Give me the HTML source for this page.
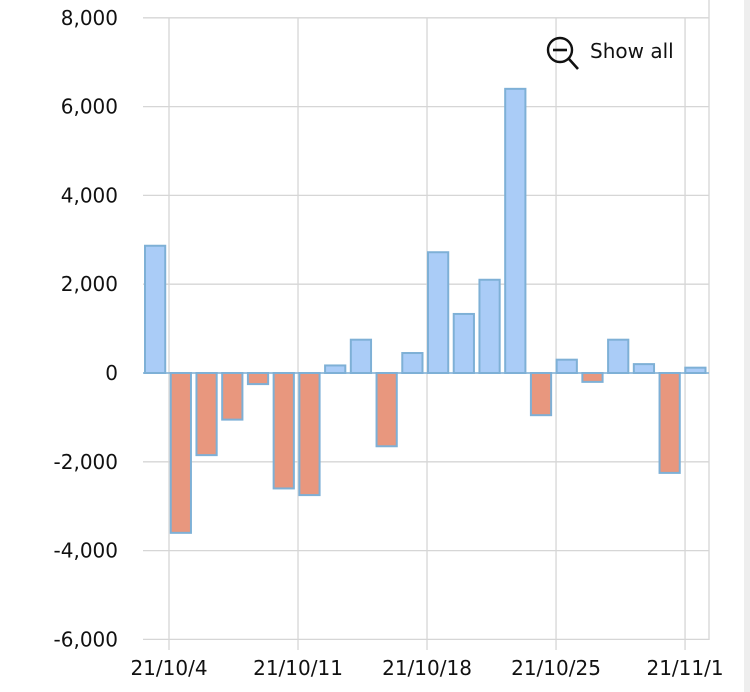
<!DOCTYPE html>
<html><head><meta charset="utf-8"><style>
html,body{margin:0;padding:0;background:#fff;}
svg{display:block;font-family:"DejaVu Sans","Liberation Sans",sans-serif;}
</style></head><body>
<svg width="750" height="692">
<defs><clipPath id="c"><rect x="0" y="0" width="723" height="692"/></clipPath></defs>
<rect x="744" y="0" width="6" height="692" fill="#eeeeee"/>
<g id="grid"></g>
<g id="bars"></g>
<g id="labels" clip-path="url(#c)"></g>
<g style="cursor:pointer">
<circle cx="560" cy="50" r="12" fill="none" stroke="#111" stroke-width="2.4"/>
<line x1="553" y1="50" x2="567" y2="50" stroke="#111" stroke-width="2.6"/>
<line x1="569" y1="59" x2="578" y2="69" stroke="#111" stroke-width="2.6"/>
<text x="590" y="58" font-size="20" fill="#111">Show all</text>
</g>
</svg>
<script>
const values=[2866,-3600,-1850,-1050,-250,-2600,-2750,170,750,-1650,450,2720,1330,2100,6400,-950,300,-200,750,200,-2250,120];
const yTicks=[8000,6000,4000,2000,0,-2000,-4000,-6000];
const yTickLabels=["8,000","6,000","4,000","2,000","0","-2,000","-4,000","-6,000"];
const xTickDays=[0,7,14,21,28];
const xTickLabels=["21/10/4","21/10/11","21/10/18","21/10/25","21/11/1"];
const NS="http://www.w3.org/2000/svg";
const L=143,R=709;
const y=v=>373-(v/2000)*88.8;
const band=(R-L)/values.length;
const xb=i=>L+band*i+2;
const xd=d=>169+d*18.43;
function mk(t,a,p){const e=document.createElementNS(NS,t);for(const k in a)e.setAttribute(k,a[k]);p.appendChild(e);return e;}
const grid=document.getElementById('grid'),bars=document.getElementById('bars'),labels=document.getElementById('labels');
yTicks.forEach((v,i)=>{
  const l=mk('line',{x1:L,x2:R,y1:y(v),y2:y(v),stroke:'#d6d6d6','stroke-width':1.3},grid);
  
  
  const t=mk('text',{x:118,y:y(v)+7,'text-anchor':'end','font-size':20,fill:'#111'},labels);
  t.textContent=yTickLabels[i];
  
  
});
xTickDays.forEach((d,i)=>{
  const l=mk('line',{x1:xd(d),x2:xd(d),y1:18,y2:650,stroke:'#d6d6d6','stroke-width':1.3},grid);
  
  
  const t=mk('text',{x:xd(d),y:675,'text-anchor':'middle','font-size':20,fill:'#111'},labels);
  t.textContent=xTickLabels[i];
  
  
});
const rl=mk('line',{x1:R,x2:R,y1:0,y2:640,stroke:'#d6d6d6','stroke-width':1.3},grid);


values.forEach((v,i)=>{
  const top=Math.min(y(v),y(0)),h=Math.abs(y(v)-y(0));
  const r=mk('rect',{x:xb(i),y:top,width:band-5.5,height:h,fill:v>=0?'#aaccf7':'#e8977e',stroke:'#7eb0d6','stroke-width':2},bars);
  
  
});
const z=mk('line',{x1:L,x2:R,y1:y(0),y2:y(0),stroke:'#7eb0d6','stroke-width':1.5},bars);


</script>
</body></html>
